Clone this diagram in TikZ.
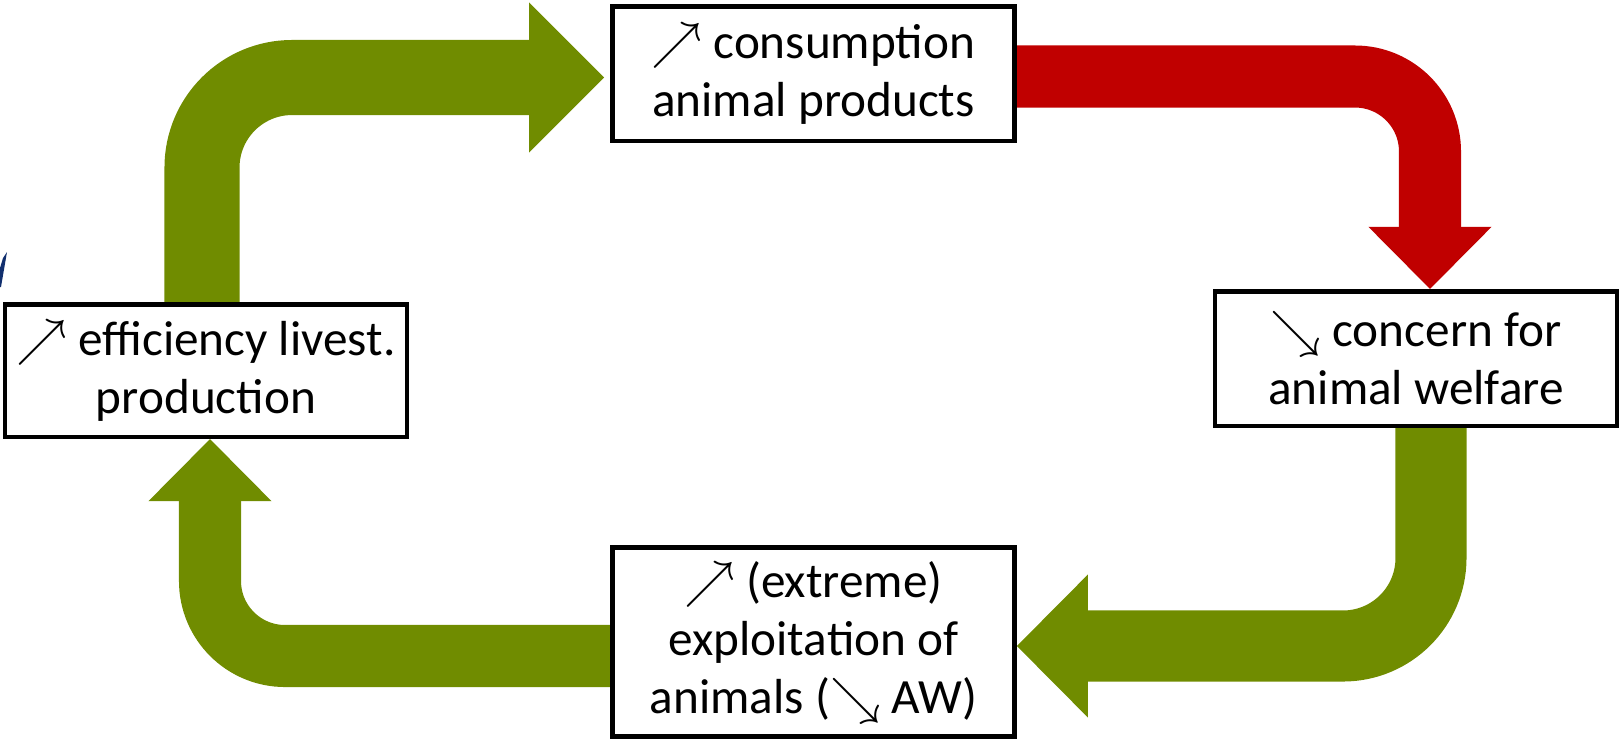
\documentclass[tikz,border=0pt]{standalone}
\usepackage{fontspec}
\setmainfont{Carlito}
\usepackage{tikz}
\usetikzlibrary{arrows.meta, calc, backgrounds}
\definecolor{leafgreen}{RGB}{112,140,0}
\definecolor{alarmred}{RGB}{192,0,0}
\definecolor{slidenavy}{RGB}{17,47,110}

\begin{document}
\begin{tikzpicture}[x=0.01cm, y=-0.01cm,
	box/.style={draw, line width=1.3pt, fill=white, align=center, inner sep=0pt,
		minimum width=4.02cm, font=\fontsize{14}{16.5}\selectfont},
	loop arrow/.style n args={4}{draw=#1, line width=#2, rounded corners=#3,
		-{Triangle[length=#2, width=#4, line width=0pt]}}]
	\useasboundingbox (0,0) rectangle (1623,741);
	\fill[slidenavy] (7,252) -- (1,287) -- (0,287) -- (0,268) -- (3,258) -- cycle;
	\node[box, minimum height=1.345cm] (cons) at (813.5,73.5) {$\nearrow$ consumption\\animal products};
	\node[box, minimum height=1.345cm] (concern) at (1416,358.5) {$\searrow$ concern for\\animal welfare};
	\node[box, minimum height=1.89cm] (exploit) at (813.5,642) {$\nearrow$ (extreme)\\exploitation of\\animals ($\searrow$ AW)};
	\node[box, minimum height=1.325cm] (effic) at (206,370.5) {$\nearrow$ efficiency livest.\\production};
	\begin{scope}[on background layer]
	\draw[loop arrow={leafgreen}{0.75cm}{0.9cm}{1.5cm}, shorten >=0.06cm] ($(effic.north)+(-4,0)$) |- ($(cons.west)+(0,4)$);
	\draw[loop arrow={alarmred}{0.62cm}{0.75cm}{1.23cm}] ($(cons.east)+(0,3)$) -| ($(concern.north)+(14,0)$);
	\draw[loop arrow={leafgreen}{0.71cm}{0.88cm}{1.43cm}] ($(concern.south)+(15,0)$) |- ($(exploit.east)+(0,4)$);
	\draw[loop arrow={leafgreen}{0.62cm}{0.75cm}{1.23cm}] ($(exploit.west)+(0,14)$) -| ($(effic.south)+(4,0)$);
	\end{scope}
\end{tikzpicture}
\end{document}
